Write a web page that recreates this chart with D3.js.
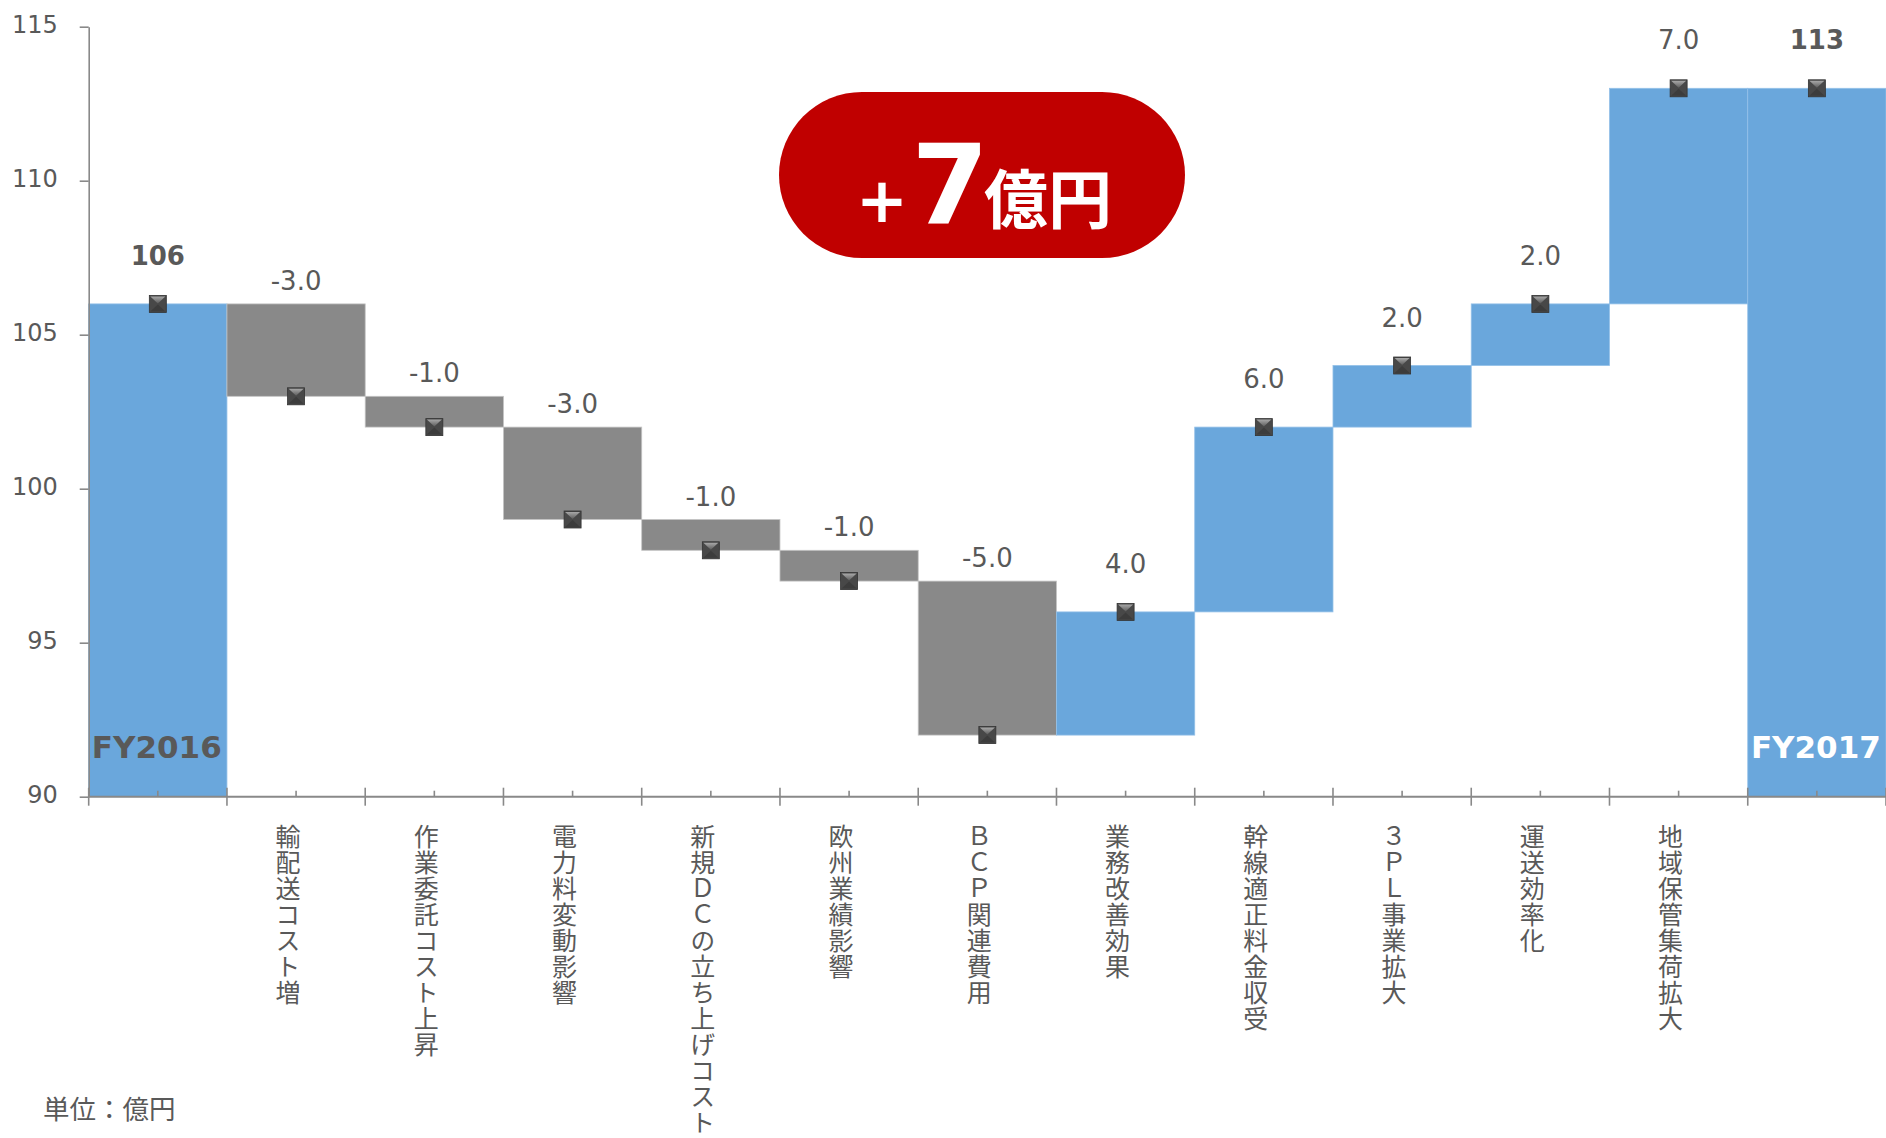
<!DOCTYPE html>
<html>
<head>
<meta charset="utf-8">
<script src="https://cdn.jsdelivr.net/npm/d3@7"></script>
<style>
  html, body { margin: 0; padding: 0; background: #ffffff; }
  svg { display: block; }
  .vlabel { writing-mode: vertical-rl; text-orientation: upright; }
</style>
</head>
<body>
<div id="chart"></div>
<script>
// ---------- data ----------
const categories = [
  "FY2016", "輸配送コスト増", "作業委託コスト上昇", "電力料変動影響",
  "新規ＤＣの立ち上げコスト", "欧州業績影響", "ＢＣＰ関連費用", "業務改善効果",
  "幹線適正料金収受", "３ＰＬ事業拡大", "運送効率化", "地域保管集荷拡大", "FY2017"
];
const barValues = [106, -3, -1, -3, -1, -1, -5, 4, 6, 2, 2, 7, 113];
const barKinds = ["total", "delta", "delta", "delta", "delta", "delta", "delta",
                  "delta", "delta", "delta", "delta", "delta", "total"];
const valueLabels = ["106", "-3.0", "-1.0", "-3.0", "-1.0", "-1.0", "-5.0",
                     "4.0", "6.0", "2.0", "2.0", "7.0", "113"];
const totalNames = ["FY2016", "", "", "", "", "", "", "", "", "", "", "", "FY2017"];
const yTicks = [90, 95, 100, 105, 110, 115];
const yDomain = [90, 115];
const badgeParts = ["+", "7", "億円"];
const unitLabel = "単位：億円";

// ---------- layout ----------
const W = 1886, H = 1138;
const plot = { left: 88.7, right: 1886, top: 26.7, bottom: 796.7 };
const textGray = "#595959";
const axisGray = "#898989";
const blue = "#6aa7dc";
const grayBar = "#898989";
const latin = "'DejaVu Sans', Verdana, sans-serif";
const cjk = "'Noto Sans CJK JP', 'Noto Sans', sans-serif";

// build waterfall rows
let run = 0;
const rows = categories.map((c, i) => {
  const v = barValues[i];
  let lo, hi, end, kind = barKinds[i];
  if (kind === "total") {
    lo = yDomain[0]; hi = v; end = v; run = v;
  } else {
    const start = run; end = run + v; run = end;
    lo = Math.min(start, end); hi = Math.max(start, end);
  }
  return { cat: c, v, kind, lo, hi, end, label: valueLabels[i], name: totalNames[i], i };
});

const svg = d3.select("#chart").append("svg")
  .attr("width", W).attr("height", H)
  .attr("viewBox", `0 0 ${W} ${H}`);

const defs = svg.append("defs");
const g1 = defs.append("linearGradient").attr("id", "mkTop")
  .attr("x1", 0).attr("y1", 0).attr("x2", 0).attr("y2", 1);
g1.append("stop").attr("offset", "0%").attr("stop-color", "#a8a8a8");
g1.append("stop").attr("offset", "100%").attr("stop-color", "#5c5c5c");

const x = d3.scaleBand().domain(categories).range([plot.left, plot.right]).padding(0);
const y = d3.scaleLinear().domain(yDomain).range([plot.bottom, plot.top]);
const isUp = d => d.kind === "total" || d.v > 0;

// ---------- bars ----------
svg.append("g").selectAll("rect").data(rows).join("rect")
  .attr("x", d => x(d.cat))
  .attr("width", x.bandwidth())
  .attr("y", d => y(d.hi))
  .attr("height", d => y(d.lo) - y(d.hi))
  .attr("fill", d => isUp(d) ? blue : grayBar)
  .attr("stroke", d => isUp(d) ? "#93c0e8" : "#c4c4c4")
  .attr("stroke-width", 0.8);

// ---------- y axis ----------
const yAxis = svg.append("g")
  .attr("transform", `translate(${plot.left},0)`)
  .call(d3.axisLeft(y).tickValues(yTicks).tickSize(9).tickPadding(22).tickSizeOuter(0));
yAxis.select(".domain").attr("stroke", axisGray).attr("stroke-width", 1.6);
yAxis.selectAll(".tick line").attr("stroke", axisGray).attr("stroke-width", 1.6);
yAxis.selectAll(".tick text")
  .attr("fill", textGray)
  .attr("font-family", latin)
  .attr("font-size", 24)
  .attr("dy", "0.24em");

// ---------- x axis ----------
const xAxis = svg.append("g");
xAxis.append("line")
  .attr("x1", plot.left).attr("x2", plot.right)
  .attr("y1", y(yDomain[0])).attr("y2", y(yDomain[0]))
  .attr("stroke", axisGray).attr("stroke-width", 2);
const boundaries = d3.range(categories.length + 1).map(k => plot.left + k * x.step());
xAxis.selectAll("line.major").data(boundaries).join("line")
  .attr("class", "major")
  .attr("x1", d => d).attr("x2", d => d)
  .attr("y1", y(yDomain[0]) - 9).attr("y2", y(yDomain[0]) + 9)
  .attr("stroke", axisGray).attr("stroke-width", 1.6);
xAxis.selectAll("line.minor").data(categories).join("line")
  .attr("class", "minor")
  .attr("x1", d => x(d) + x.bandwidth() / 2).attr("x2", d => x(d) + x.bandwidth() / 2)
  .attr("y1", y(yDomain[0]) - 6).attr("y2", y(yDomain[0]))
  .attr("stroke", axisGray).attr("stroke-width", 1.6);

// vertical category labels
svg.append("g").selectAll("text").data(rows.filter(d => d.kind !== "total")).join("text")
  .attr("class", "vlabel")
  .attr("x", d => x(d.cat) + x.bandwidth() / 2 - 8)
  .attr("y", y(yDomain[0]) + 27)
  .attr("font-family", cjk)
  .attr("font-size", 25)
  .attr("letter-spacing", 1)
  .attr("fill", textGray)
  .text(d => d.cat);

// ---------- markers ----------
const mk = svg.append("g").selectAll("g").data(rows).join("g")
  .attr("transform", d => `translate(${x(d.cat) + x.bandwidth() / 2},${y(d.end)})`);
mk.append("rect")
  .attr("x", -8.5).attr("y", -8.5).attr("width", 17).attr("height", 17)
  .attr("fill", "#484848").attr("stroke", "#333").attr("stroke-width", 0.8);
mk.append("polygon").attr("points", "-7.5,-7.5 7.5,-7.5 0,-0.5").attr("fill", "url(#mkTop)");
mk.append("polygon").attr("points", "-7.5,7.5 7.5,7.5 0,0.5").attr("fill", "#3c3c3c");

// ---------- value labels ----------
svg.append("g").selectAll("text").data(rows).join("text")
  .attr("x", d => x(d.cat) + x.bandwidth() / 2)
  .attr("y", d => y(d.hi) - (isUp(d) ? 39 : 14))
  .attr("text-anchor", "middle")
  .attr("font-family", latin)
  .attr("font-size", 26)
  .attr("font-weight", d => d.kind === "total" ? "bold" : "normal")
  .attr("fill", textGray)
  .text(d => d.label);

// total names inside bars
svg.append("g").selectAll("text").data(rows.filter(d => d.name)).join("text")
  .attr("x", d => x(d.cat) + x.bandwidth() / 2 - 1)
  .attr("y", y(yDomain[0]) - 39)
  .attr("text-anchor", "middle")
  .attr("font-family", latin)
  .attr("font-size", 31)
  .attr("font-weight", "bold")
  .attr("fill", d => d.i === 0 ? textGray : "#ffffff")
  .text(d => d.name);

// ---------- badge ----------
const badge = svg.append("g");
badge.append("rect")
  .attr("x", 779).attr("y", 92).attr("width", 406).attr("height", 166)
  .attr("rx", 83).attr("ry", 83).attr("fill", "#c00000");
badge.append("text")
  .attr("x", 882).attr("y", 222).attr("text-anchor", "middle")
  .attr("font-family", latin).attr("font-weight", "bold").attr("font-size", 62)
  .attr("fill", "#fff").text(badgeParts[0]);
badge.append("text")
  .attr("x", 950).attr("y", 222.5).attr("text-anchor", "middle")
  .attr("font-family", latin).attr("font-weight", "bold").attr("font-size", 111)
  .attr("fill", "#fff").text(badgeParts[1]);
badge.append("text")
  .attr("x", 984).attr("y", 222.5).attr("text-anchor", "start")
  .attr("font-family", cjk).attr("font-weight", "bold").attr("font-size", 64)
  .attr("fill", "#fff").text(badgeParts[2]);

// ---------- unit ----------
svg.append("text")
  .attr("x", 43).attr("y", 1119)
  .attr("font-family", cjk).attr("font-size", 26.5).attr("fill", textGray)
  .text(unitLabel);
</script>
</body>
</html>
